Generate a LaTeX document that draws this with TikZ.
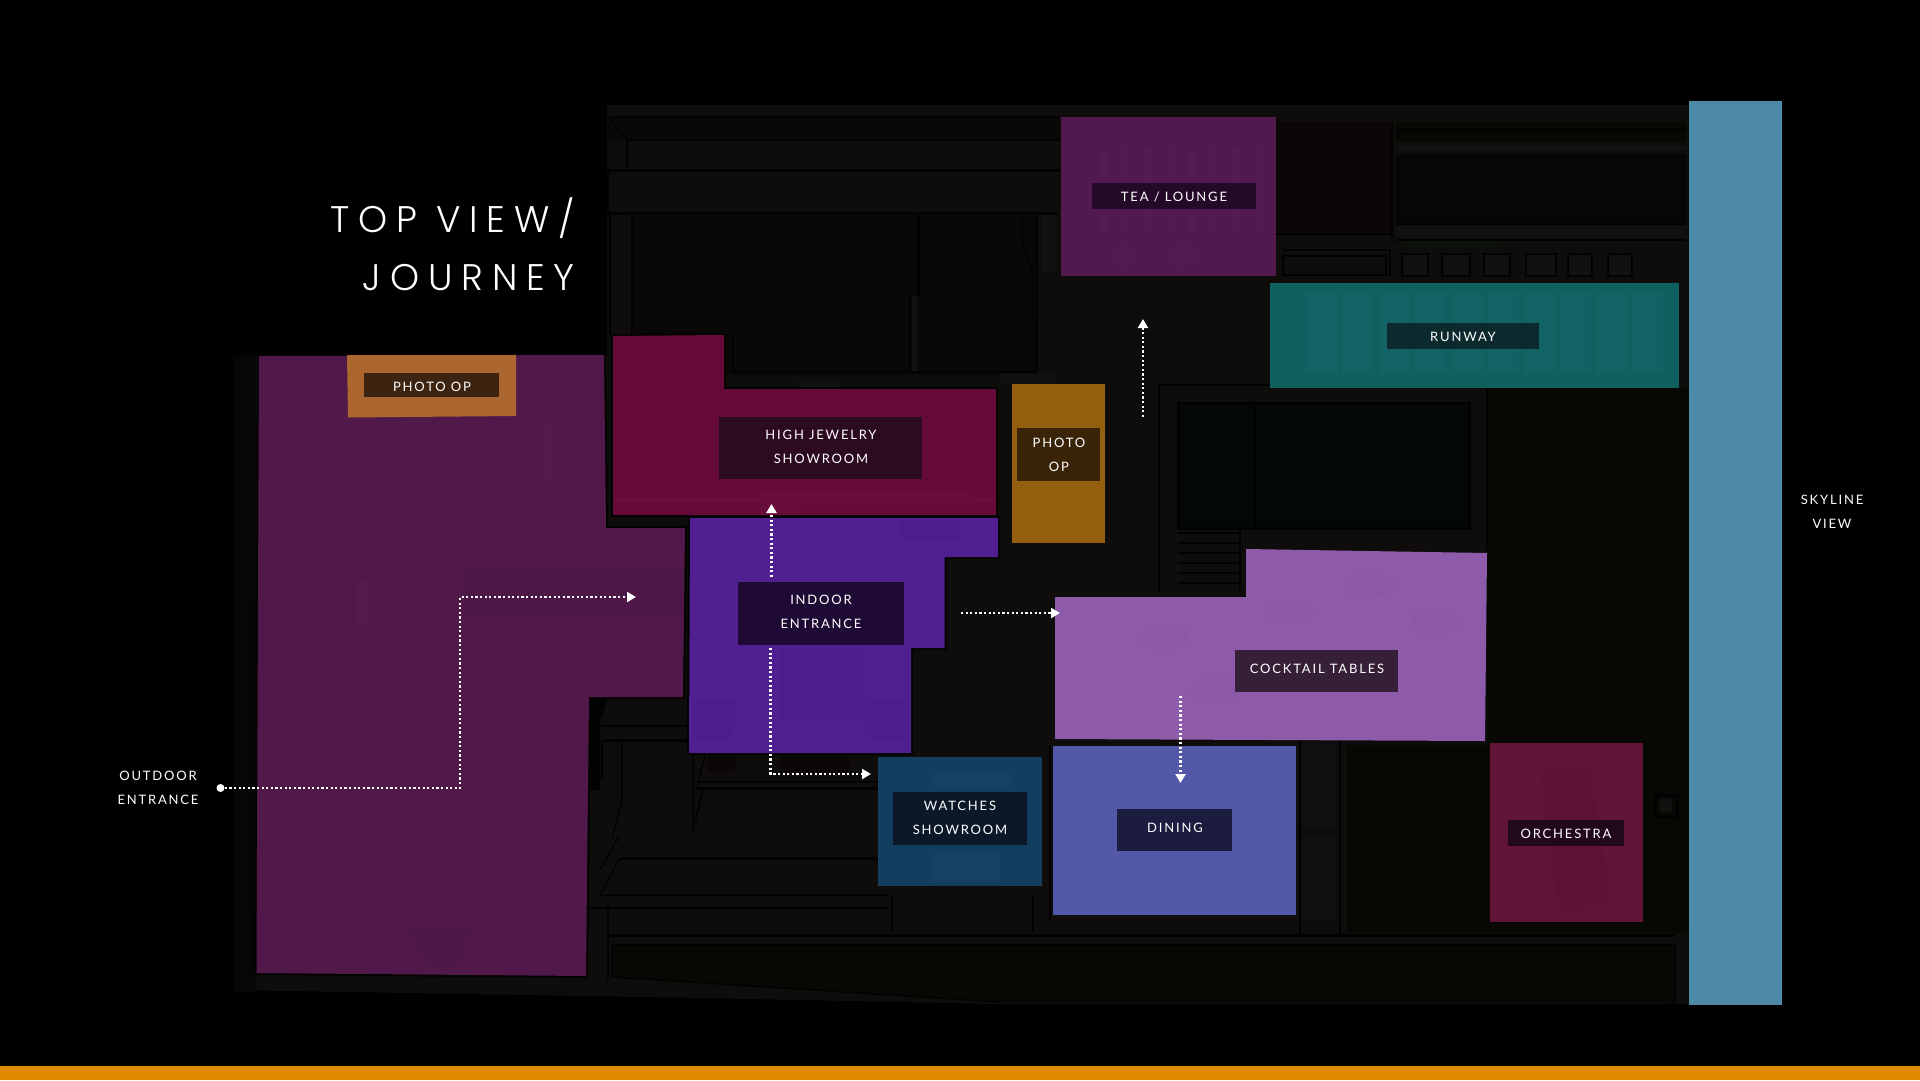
\documentclass[tikz,border=0pt]{standalone}
\usepackage{fontspec}
\setmainfont{Lato}
\usetikzlibrary{arrows.meta}
\definecolor{barc}{HTML}{E08A00}
\definecolor{floorc}{HTML}{0E0D0C}
\definecolor{floordk}{HTML}{0A0807}
\definecolor{floorgr}{HTML}{070804}
\definecolor{floorte}{HTML}{030707}
\definecolor{floorlt}{HTML}{111110}
\definecolor{floorbr}{HTML}{0B0706}
\definecolor{floorgn}{HTML}{0C120A}
\definecolor{outdoorc}{HTML}{50194A}
\definecolor{outdoordk}{HTML}{4D1848}
\definecolor{outdoorlt}{HTML}{531B4C}
\definecolor{photoac}{HTML}{AC6630}
\definecolor{jewelc}{HTML}{660B39}
\definecolor{jeweldk}{HTML}{690E3C}
\definecolor{indoorc}{HTML}{502090}
\definecolor{indoordk}{HTML}{4E1E8D}
\definecolor{photobc}{HTML}{946010}
\definecolor{teac}{HTML}{501A4E}
\definecolor{tealt}{HTML}{531C50}
\definecolor{runwayc}{HTML}{106060}
\definecolor{runwaylt}{HTML}{126464}
\definecolor{skyc}{HTML}{4D8AA8}
\definecolor{cocktailc}{HTML}{8E5AAA}
\definecolor{cocktaildk}{HTML}{8C58A8}
\definecolor{diningc}{HTML}{5358A8}
\definecolor{watchc}{HTML}{143E60}
\definecolor{watchlt}{HTML}{164166}
\definecolor{orchc}{HTML}{621438}
\definecolor{orchdk}{HTML}{601236}
\newfontfamily\lblfont[LetterSpace=14]{Lato}
\newfontfamily\titlefont[LetterSpace=24]{Poppins Light}
\tikzset{
  x=1pt,y=-1pt,
  room/.style={fill=#1,preaction={draw=black!80!floorc,line width=4pt,line join=miter}},
  flat/.style={fill=#1},
  lbl/.style={draw=none,inner sep=0pt,anchor=north west},
  txt/.style={text=white,font=\lblfont\fontsize{13}{24}\selectfont,align=center,inner sep=0pt},
  walk/.style={draw=white,line width=2.2pt,dash pattern=on 2.2pt off 2.4pt},
  walkarrow/.style={walk,-{Triangle[width=10pt,length=9pt]}},
  plan/.style={draw=black!85!floorc,line width=1.5pt,fill=none},
  planthick/.style={draw=black!85!floorc,line width=3pt,fill=none},
}
\begin{document}
\begin{tikzpicture}
\useasboundingbox (0,0) rectangle (1920,1080);
\fill[black] (0,0) rectangle (1920,1080);
\fill[barc] (0,1066) rectangle (1920,1080);
% floor plan
\fill[floorc] (607,105) -- (1689,105) -- (1689,1004) -- (1000,1004) -- (700,998) -- (233,990) -- (233,355) -- (607,355) -- cycle;
\fill[floordk!70!black] (233,355) rectangle (256,992);
% north bands
\fill[floordk] (608,118) rectangle (1060,140);
\draw[plan] (608,117) -- (1060,117);
\draw[plan] (608,117) -- (627,140) -- (1060,140);
\draw[plan] (627,140) -- (627,168);
\draw[planthick] (608,170) -- (1060,170);
\draw[planthick] (608,213) -- (1058,213);
\draw[plan] (608,170) -- (608,213);
% north rooms
\fill[floordk] (633,214) rectangle (1037,375);
\draw[plan] (610,214) -- (610,335);
\draw[plan] (632,214) -- (632,335);
\draw[planthick] (918,214) -- (918,296);
\fill[floorlt] (912,296) rectangle (918,372);
\draw[plan] (910,296) -- (910,372);
\draw[plan] (1037,214) -- (1037,372);
\draw[plan] (1022,214) -- (1022,240) -- (1032,268) -- (1032,320);
\fill[floorlt] (1042,215) rectangle (1056,272);
\draw[plan] (725,336) -- (733,336) -- (733,372);
\draw[plan] (733,372) -- (1037,372);
\fill[floorlt] (1000,374) rectangle (1056,384);
\fill[floorlt] (797,382) rectangle (840,388);
% north east
\fill[floorbr] (1276,122) rectangle (1392,232);
\draw[plan] (1392,122) -- (1392,238);
\draw[plan] (1276,234) -- (1392,234);
\fill[floorgr] (1396,122) rectangle (1686,142);
\draw[plan] (1396,130) -- (1686,130);
\fill[floorlt] (1396,145) rectangle (1686,150);
\fill[floordk!70!black] (1396,154) rectangle (1686,224);
\draw[plan] (1396,224) -- (1686,224);
\fill[floorlt] (1396,226) rectangle (1686,238);
\draw[plan] (1396,240) -- (1686,240);
\fill[floorgn] (1405,241) rectangle (1503,247);
\draw[plan] (1283,250) -- (1390,250) -- (1390,276);
\draw[plan] (1283,256) rectangle (1386,275);
\foreach \xa/\xb in {1402/1428,1442/1470,1484/1510,1526/1556,1568/1592,1608/1632}{
  \draw[plan,fill=floorlt] (\xa,254) rectangle (\xb,276);
}
% central plan block
\fill[floorgr] (1487,388) rectangle (1689,745);
\fill[floorgr] (1347,745) rectangle (1689,933);
\draw[plan] (1159,385) -- (1487,385) -- (1487,550);
\draw[plan] (1159,385) -- (1159,592);
\fill[floorte] (1178,403) rectangle (1469,528);
\draw[planthick] (1178,403) rectangle (1469,528);
\draw[plan] (1255,403) -- (1255,528);
\foreach \yy in {533,543,553,563,573,583}{
  \draw[plan] (1178,\yy) -- (1240,\yy);
}
\draw[plan] (1240,530) -- (1240,590);
% south west plan
\fill[black!85!floorc] (589,699) -- (608,699) -- (600,722) -- (600,790) -- (589,790) -- cycle;
\draw[plan] (592,726) -- (690,726);
\draw[planthick] (602,740) -- (690,740);
\draw[plan] (602,740) -- (602,780);
\draw[plan] (622,742) -- (622,800) -- (612,838);
\draw[plan] (693,755) -- (693,830) -- (703,790);
\draw[plan] (705,755) -- (698,782) -- (878,782);
\draw[planthick] (696,788) -- (878,788);
\fill[floorbr] (780,756) -- (850,756) -- (850,772) -- (780,772) -- cycle;
\fill[floorbr] (708,756) -- (738,756) -- (734,772) -- (708,772) -- cycle;
\draw[planthick] (620,858) -- (878,858);
\draw[plan] (620,858) -- (600,895) -- (888,895);
\draw[plan] (600,870) -- (618,838);
\draw[plan] (590,908) -- (888,908);
\draw[plan] (892,895) -- (892,932);
\draw[plan] (1033,895) -- (1033,932);
\draw[planthick] (608,935) -- (1675,935);
\draw[plan] (1050,745) -- (1050,920);
\draw[plan] (1300,740) -- (1300,936);
\draw[plan] (1340,740) -- (1340,936);
\fill[floorlt] (1303,745) rectangle (1335,827);
\fill[floorlt] (1303,838) rectangle (1335,920);
\fill[floorgr] (612,945) -- (1675,945) -- (1675,1003) -- (1000,1002) -- (612,977) -- cycle;
\draw[plan] (612,945) -- (1675,945) -- (1675,1003);
\draw[plan] (612,945) -- (612,977) -- (1000,1002);
\draw[plan] (608,905) -- (608,980);
\draw[planthick] (1655,795) rectangle (1677,816);
\fill[floorlt] (1660,799) rectangle (1672,812);
% rooms with faint texture
\path[room=outdoorc] (259,356) -- (604,355) -- (606,528) -- (685,528) -- (683,697) -- (589,697) -- (586,976) -- (256.5,973) -- cycle;
\foreach \xx in {310,345,392,432,470,490,520,552,585}{
  \fill[outdoordk] (\xx,425) rectangle (\xx+2,690);
}
\fill[outdoordk] (462,570) rectangle (683,613);
\fill[outdoorlt] (545,420) rectangle (558,480);
\fill[outdoorlt] (355,580) rectangle (370,625);
\foreach \yy in {790,845}{\fill[outdoordk] (260,\yy) rectangle (460,\yy+2);}
\fill[outdoordk] (408,930) -- (470,930) -- (455,965) -- (430,965) -- cycle;
\path[flat=photoac] (347,355) -- (516,355) -- (516,416) -- (348,417.5) -- cycle;
\path[room=jewelc] (613,336) -- (724,335) -- (724,389) -- (996,389) -- (996,515) -- (613,515) -- cycle;
\fill[jeweldk] (614,499) rectangle (995,502);
\fill[jeweldk] (760,492) rectangle (800,515);
\fill[jeweldk] (800,490) rectangle (970,498);
\path[room=indoorc] (690,518) -- (998,518) -- (998,557) -- (944.5,557) -- (944.5,648) -- (911,648) -- (911,753) -- (689,753) -- cycle;
\fill[indoordk] (780,640) rectangle (865,722);
\fill[indoordk] (900,520) rectangle (960,540);
\fill[indoordk] (692,700) -- (740,700) -- (730,740) -- (692,740) -- cycle;
\fill[indoordk] (866,700) rectangle (908,740);
\path[flat=photobc] (1012,384) rectangle (1105,543);
\path[flat=teac] (1061,117) rectangle (1276,276);
\foreach \xx in {1100,1122,1144,1166,1188,1210,1232,1254}{
  \fill[tealt] (\xx,148) rectangle (\xx+8,232);
}
\fill[tealt] (1126,240) -- (1142,256) -- (1126,270) -- (1110,256) -- cycle;
\fill[tealt] (1183,240) -- (1199,256) -- (1183,270) -- (1167,256) -- cycle;
\path[flat=runwayc] (1270,283) rectangle (1679,388);
\foreach \xx in {1306,1342,1380,1415,1451,1488,1524,1560,1596,1632}{
  \fill[runwaylt] (\xx,293) rectangle (\xx+31,373);
}
\fill[skyc] (1689,101) rectangle (1782,1005);
\path[flat=cocktailc] (1055,597) -- (1246,597) -- (1246,549) -- (1487,553) -- (1485,741) -- (1055,739) -- cycle;
\foreach \cx/\cy in {1165/637,1290/612,1370/585,1435/622,1215/690}{
  \fill[cocktaildk] (\cx,\cy) ellipse [x radius=24pt,y radius=12pt];
}
\path[flat=diningc] (1053,746) rectangle (1296,915);
\path[flat=watchc] (878,757) rectangle (1042,886);
\fill[watchlt] (930,770) rectangle (1010,790);
\fill[watchlt] (930,850) rectangle (1000,882);
\path[flat=orchc] (1490,743) rectangle (1643,922);
\fill[orchdk] (1540,770) -- (1590,770) -- (1610,900) -- (1560,915) -- cycle;
% label plates
\node[lbl,fill={rgb,255:red,60;green,36;blue,16},minimum width=135pt,minimum height=24pt] (plPhotoA) at (364,373) {};
\node[lbl,fill={rgb,255:red,44;green,10;blue,32},minimum width=203pt,minimum height=62pt] (plJewel) at (719,417) {};
\node[lbl,fill={rgb,255:red,30;green,10;blue,52},minimum width=166pt,minimum height=63pt] (plIndoor) at (738,582) {};
\node[lbl,fill={rgb,255:red,36;green,10;blue,40},minimum width=164pt,minimum height=26pt] (plTea) at (1092,183) {};
\node[lbl,fill={rgb,255:red,12;green,42;blue,46},minimum width=152pt,minimum height=26pt] (plRunway) at (1387,323) {};
\node[lbl,fill={rgb,255:red,58;green,36;blue,8},minimum width=83pt,minimum height=53pt] (plPhotoB) at (1017,428) {};
\node[lbl,fill={rgb,255:red,53;green,32;blue,56},minimum width=163pt,minimum height=42pt] (plCocktail) at (1235,650) {};
\node[lbl,fill={rgb,255:red,28;green,28;blue,64},minimum width=115pt,minimum height=42pt] (plDining) at (1117,809) {};
\node[lbl,fill={rgb,255:red,10;green,24;blue,40},minimum width=134pt,minimum height=53pt] (plWatches) at (893,792) {};
\node[lbl,fill={rgb,255:red,34;green,8;blue,28},minimum width=116pt,minimum height=26pt] (plOrch) at (1508,820) {};
% texts
\node[txt] (tPhotoA) at (432,387) {PHOTO OP};
\node[txt] (tJewel) at (821,447) {HIGH JEWELRY\\SHOWROOM};
\node[txt] (tIndoor) at (821,612) {INDOOR\\ENTRANCE};
\node[txt] (tTea) at (1174,197) {TEA / LOUNGE};
\node[txt] (tRunway) at (1463,337) {RUNWAY};
\node[txt] (tPhotoB) at (1059,455) {PHOTO\\OP};
\node[txt] (tCocktail) at (1317,669) {COCKTAIL TABLES};
\node[txt] (tWatches) at (960,818) {WATCHES\\SHOWROOM};
\node[txt] (tDining) at (1175,827.5) {DINING};
\node[txt] (tOrch) at (1566,833.5) {ORCHESTRA};
\node[txt] (tOutdoor) at (158,787.5) {OUTDOOR\\ENTRANCE};
\node[txt] (tSkyline) at (1832,512) {SKYLINE\\VIEW};
\node[text=white,font=\titlefont\fontsize{37}{58}\selectfont,align=right,anchor=east,inner sep=0pt] (title) at (575,244) {TOP VIEW/\\JOURNEY};
% walk connectors
\node[circle,fill=white,inner sep=0pt,minimum size=8pt] (start) at (220.5,788) {};
\coordinate (c1) at (460,788);
\coordinate (c2) at (460,597);
\coordinate (e1) at (636,597);
\draw[walkarrow] (start) -- (c1) -- (c2) -- (e1);
\coordinate (u0) at (771.5,577);
\coordinate (u1) at (771.5,504);
\draw[walkarrow] (u0) -- (u1);
\coordinate (d0) at (770.5,648);
\coordinate (d1) at (770.5,774);
\coordinate (d2) at (871,774);
\draw[walkarrow] (d0) -- (d1) -- (d2);
\coordinate (r0) at (961,613);
\coordinate (r1) at (1060,613);
\draw[walkarrow] (r0) -- (r1);
\coordinate (t0) at (1143,417);
\coordinate (t1) at (1143,319);
\draw[walkarrow] (t0) -- (t1);
\coordinate (k0) at (1180.5,696);
\coordinate (k1) at (1180.5,783);
\draw[walkarrow] (k0) -- (k1);
\end{tikzpicture}
\end{document}
